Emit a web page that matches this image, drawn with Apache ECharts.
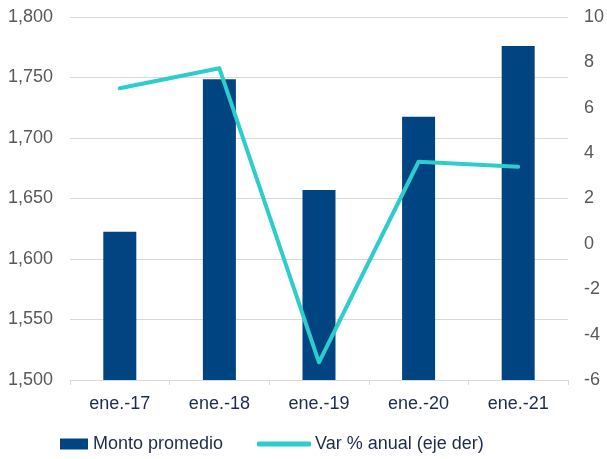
<!DOCTYPE html>
<html>
<head>
<meta charset="utf-8">
<script src="https://cdn.jsdelivr.net/npm/echarts@6/dist/echarts.min.js"></script>
<style>
html,body{margin:0;padding:0;background:#fff;}
#chart{width:607px;height:459px;}
</style>
</head>
<body>
<div id="chart"></div>
<script>
const categories = ['ene.-17', 'ene.-18', 'ene.-19', 'ene.-20', 'ene.-21'];
const montoPromedio = [1622.5, 1748.5, 1657, 1717.5, 1776];
const varAnual = [6.86, 7.74, -5.22, 3.62, 3.4];
const leftTicks = { min: 1500, max: 1800, interval: 50 };
const rightTicks = { min: -6, max: 10, interval: 2 };

const FONT = '"Liberation Sans", Arial, sans-serif';
const chart = echarts.init(document.getElementById('chart'), null, { renderer: 'canvas' });
chart.setOption({
  animation: false,
  backgroundColor: '#ffffff',
  textStyle: { fontFamily: FONT },
  grid: { left: 70, right: 37, top: 17, bottom: 79, containLabel: false },
  legend: [
    {
      data: ['Monto promedio'],
      left: 60, top: 435, padding: 0,
      itemWidth: 28, itemHeight: 11,
      icon: 'rect',
      textStyle: { fontFamily: FONT, fontSize: 18, color: '#1d2c4c' }
    },
    {
      data: ['Var % anual (eje der)'],
      left: 257, top: 435, padding: 0,
      itemWidth: 54, itemHeight: 5,
      icon: 'roundRect',
      textStyle: { fontFamily: FONT, fontSize: 18, color: '#1d2c4c', padding: [0, 0, 0, -1] }
    }
  ],
  xAxis: {
    type: 'category',
    data: categories,
    axisLine: { show: true, onZero: false, lineStyle: { color: '#d9d9d9', width: 1 } },
    axisTick: { show: true, length: 5, lineStyle: { color: '#d9d9d9' } },
    axisLabel: { fontFamily: FONT, fontSize: 18, color: '#1d2c4c', margin: 15 }
  },
  yAxis: [
    {
      type: 'value',
      min: leftTicks.min, max: leftTicks.max, interval: leftTicks.interval,
      axisLine: { show: false }, axisTick: { show: false },
      splitLine: { show: true, lineStyle: { color: '#d9d9d9', width: 1 } },
      axisLabel: {
        fontFamily: FONT, fontSize: 18, color: '#595959', margin: 17,
        formatter: v => v.toLocaleString('en-US')
      }
    },
    {
      type: 'value',
      min: rightTicks.min, max: rightTicks.max, interval: rightTicks.interval,
      axisLine: { show: false }, axisTick: { show: false },
      splitLine: { show: false },
      axisLabel: { fontFamily: FONT, fontSize: 18, color: '#595959', margin: 16 }
    }
  ],
  series: [
    {
      name: 'Monto promedio',
      type: 'bar',
      data: montoPromedio,
      barWidth: 33,
      itemStyle: { color: '#004481' },
      yAxisIndex: 0
    },
    {
      name: 'Var % anual (eje der)',
      type: 'line',
      data: varAnual,
      yAxisIndex: 1,
      showSymbol: false,
      symbol: 'none',
      lineStyle: { color: '#2dcccd', width: 4, cap: 'round', join: 'round' },
      itemStyle: { color: '#2dcccd' }
    }
  ]
});
</script>
</body>
</html>
